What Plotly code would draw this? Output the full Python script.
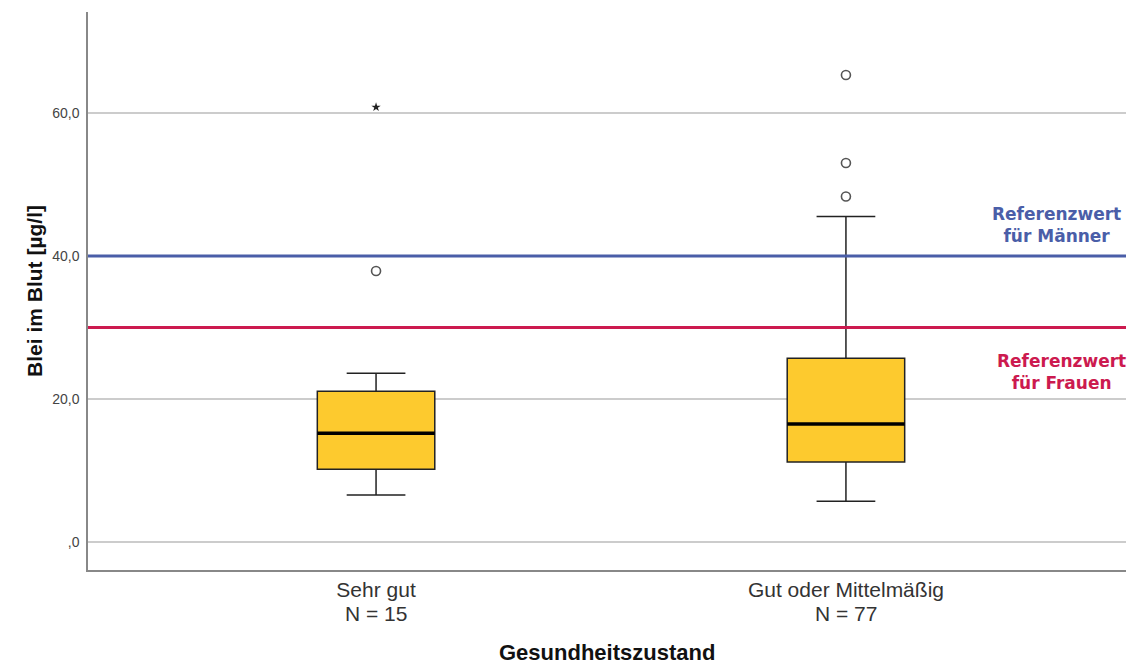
import plotly.graph_objects as go

categories = ["Sehr gut", "Gut oder Mittelmäßig"]
counts = [15, 77]
q1 = [10.2, 11.2]
median = [15.2, 16.5]
q3 = [21.1, 25.7]
lower_whisker = [6.6, 5.7]
upper_whisker = [23.6, 45.5]
outliers = [[37.9], [48.3, 53.0, 65.3]]
extremes = [[60.8], []]
ref_men = 40.0
ref_women = 30.0
y_ticks = [0, 20, 40, 60]
y_tick_labels = [",0", "20,0", "40,0", "60,0"]
x_title = "Gesundheitszustand"
y_title = "Blei im Blut [µg/l]"

xpos = list(range(len(categories)))
box_w = 0.25

fig = go.Figure()
for i, c in enumerate(categories):
    fig.add_trace(go.Box(
        x=[xpos[i]], q1=[q1[i]], median=[median[i]], q3=[q3[i]],
        lowerfence=[lower_whisker[i]], upperfence=[upper_whisker[i]],
        width=box_w, whiskerwidth=0.5,
        fillcolor="#fdca2e", line=dict(color="#222222", width=1.5),
        boxpoints=False, showlegend=False, hoverinfo="skip"))
    fig.add_trace(go.Scatter(
        x=[xpos[i] - box_w / 2, xpos[i] + box_w / 2], y=[median[i], median[i]],
        mode="lines", line=dict(color="#000000", width=3.5),
        showlegend=False, hoverinfo="skip"))
    if outliers[i]:
        fig.add_trace(go.Scatter(
            x=[xpos[i]] * len(outliers[i]), y=outliers[i], mode="markers",
            marker=dict(symbol="circle-open", size=9, color="#555555", line=dict(width=1.6)),
            showlegend=False))
    if extremes[i]:
        fig.add_trace(go.Scatter(
            x=[xpos[i]] * len(extremes[i]), y=extremes[i], mode="markers",
            marker=dict(symbol="star", size=7, color="#222222"),
            showlegend=False))
    fig.add_annotation(x=xpos[i], y=-0.078, xref="x", yref="paper",
                       text=f"N = {counts[i]}", showarrow=False, yanchor="middle",
                       font=dict(family="Liberation Sans, Arial", size=21, color="#333333"))

fig.add_hline(y=ref_men, line=dict(color="#4a5ea8", width=3))
fig.add_hline(y=ref_women, line=dict(color="#cc1a4f", width=3))

fig.add_annotation(x=1.449, y=44.3, xref="x", yref="y",
                   text="<b>Referenzwert<br>für Männer</b>", showarrow=False,
                   font=dict(family="DejaVu Sans", size=17, color="#4a5ea8"),
                   align="center", yanchor="middle")
fig.add_annotation(x=1.459, y=23.8, xref="x", yref="y",
                   text="<b>Referenzwert<br>für Frauen</b>", showarrow=False,
                   font=dict(family="DejaVu Sans", size=17, color="#cc1a4f"),
                   align="center", yanchor="middle")

# x-axis title
fig.add_annotation(x=0.5, y=-0.148, xref="paper", yref="paper",
                   text=f"<b>{x_title}</b>", showarrow=False, yanchor="middle",
                   font=dict(size=22, color="#111111", family="Liberation Sans, Arial"))

fig.update_layout(
    width=1120, height=660,
    margin=dict(l=80, r=2, t=4, b=98),
    plot_bgcolor="white", paper_bgcolor="white",
    font=dict(family="Liberation Sans, Arial", color="#222222"),
    xaxis=dict(
        range=[-0.613, 1.596], tickvals=xpos, ticktext=categories,
        tickfont=dict(size=21, color="#333333", family="Liberation Sans, Arial"),
        showgrid=False, zeroline=False, showline=True, linecolor="#888888", linewidth=1.5,
        ticks="", ticklen=0, automargin=False,
    ),
    yaxis=dict(
        range=[-3.9, 74.1], tickvals=y_ticks, ticktext=y_tick_labels,
        tickfont=dict(size=14, color="#444444", family="Liberation Sans, Arial"),
        showgrid=True, gridcolor="#cccccc", gridwidth=1.5, zeroline=False, automargin=False,
        showline=True, linecolor="#888888", linewidth=1.5, ticks="", ticklabelstandoff=4,
        title=dict(text=f"<b>{y_title}</b>",
                   font=dict(size=21, color="#111111", family="Liberation Sans, Arial"), standoff=4),
    ),
)

fig.write_html("out.html")
